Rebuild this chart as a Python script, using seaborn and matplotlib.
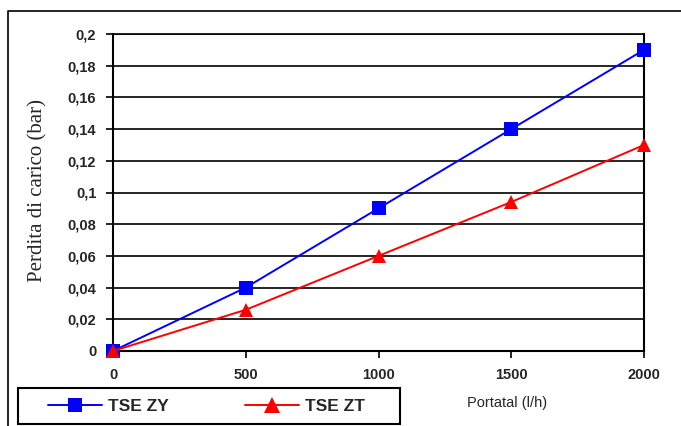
import numpy as np
import pandas as pd
import matplotlib as mpl
import matplotlib.pyplot as plt
import seaborn as sns

portata = [0, 500, 1000, 1500, 2000]
zy = [0, 0.04, 0.09, 0.14, 0.19]
zt = [0, 0.026, 0.06, 0.094, 0.13]
serie = ['TSE ZY', 'TSE ZT']
yticks = [0, 0.02, 0.04, 0.06, 0.08, 0.1, 0.12, 0.14, 0.16, 0.18, 0.2]
ytick_labels = ['0', '0,02', '0,04', '0,06', '0,08', '0,1', '0,12', '0,14', '0,16', '0,18', '0,2']
xticks = [0, 500, 1000, 1500, 2000]

df = pd.DataFrame({
    'portata': portata * 2,
    'perdita': zy + zt,
    'serie': [serie[0]] * 5 + [serie[1]] * 5,
})

sns.set_style('white')
plt.rcParams['font.family'] = ['Liberation Sans', 'DejaVu Sans']

W, H = 681, 426
fig = plt.figure(figsize=(W/100, H/100), dpi=100)
ax = fig.add_axes([113/W, 1-351/H, (644-113)/W, (351-34)/H])

sns.lineplot(data=df, x='portata', y='perdita', hue='serie', style='serie',
             palette={'TSE ZY': '#0000ff', 'TSE ZT': '#ff0000'},
             markers={'TSE ZY': 's', 'TSE ZT': '^'}, dashes=False,
             markersize=9.5, markeredgewidth=0, linewidth=1.4, ax=ax, legend=False)
for l in ax.lines:
    l.set_clip_on(False)
    l.set_zorder(5)

ax.set_xlim(0, 2000)
ax.set_ylim(0, 0.2)
ax.set_yticks(yticks)
ax.set_yticklabels(ytick_labels)
ax.set_xticks(xticks)
ax.set_xticklabels([str(v) for v in xticks])
for lab in ax.get_xticklabels() + ax.get_yticklabels():
    lab.set_fontweight('bold')
    lab.set_fontsize(10.5)
ax.tick_params(axis='both', direction='out', length=5, width=1.2, color='black',
               left=True, bottom=True, pad=7)
ax.yaxis.grid(True, color='black', linewidth=1.2)
ax.set_axisbelow(True)
for s in ax.spines.values():
    s.set_color('black')
    s.set_linewidth(1.5)
ax.spines['top'].set_linewidth(1.2)

ax.set_xlabel('')
ax.set_ylabel('')
fig.text(38/W, 1-190/H, 'Perdita di carico (bar)', rotation=90, ha='center', va='center',
         fontsize=15, family=['Liberation Serif', 'DejaVu Serif'])
fig.text(507/W, 1-403/H, 'Portatal (l/h)', ha='center', va='center', fontsize=10.5)

# cornice esterna (solo sinistra e sopra)
fig.add_artist(mpl.lines.Line2D([8/W, 8/W, 1], [0, 1-11/H, 1-11/H],
                                color='black', linewidth=1.2, transform=fig.transFigure))

# riquadro legenda
fig.add_artist(mpl.patches.Rectangle((18/W, 1-424/H), (400-18)/W, 36/H, fill=False,
                                     edgecolor='black', linewidth=1.5, transform=fig.transFigure))

handles = [mpl.lines.Line2D([], [], color='#0000ff', marker='s', markersize=10, linewidth=1.4, markeredgewidth=0),
           mpl.lines.Line2D([], [], color='#ff0000', marker='^', markersize=11, linewidth=1.4, markeredgewidth=0)]
leg = fig.legend(handles, serie, ncol=2, loc='center left',
                 bbox_to_anchor=(48/W, 1-406/H), frameon=False, handlelength=3.1,
                 borderpad=0, borderaxespad=0, handletextpad=0.35, columnspacing=4.4,
                 prop={'weight': 'bold', 'size': 12.5})

fig.savefig('out.png', dpi=100)
